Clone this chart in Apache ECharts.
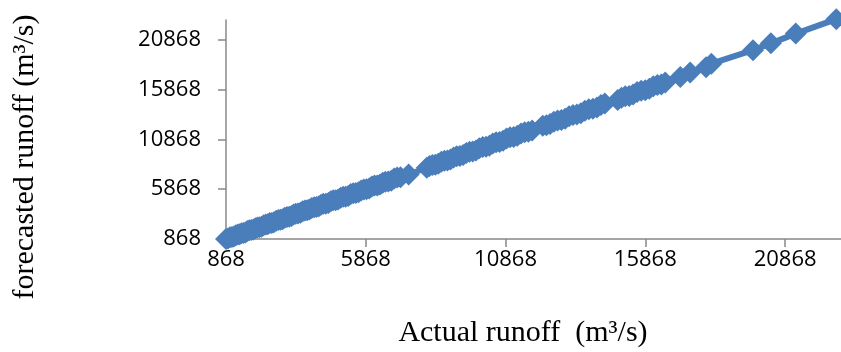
<!DOCTYPE html>
<html>
<head>
<meta charset="utf-8">
<script src="https://cdn.jsdelivr.net/npm/echarts@6/dist/echarts.min.js"></script>
<style>
  html, body { margin: 0; padding: 0; background: #fff; }
  #chart { width: 841px; height: 352px; }
</style>
</head>
<body>
<div id="chart"></div>
<script>
// Actual runoff (m3/s), sorted ascending
const actualRunoff = [
  868, 940, 1010, 1080, 1150, 1220, 1290, 1355, 1420, 1490,
  1560, 1630, 1700, 1775, 1850, 1920, 1990, 2065, 2140, 2215,
  2290, 2360, 2430, 2505, 2580, 2660, 2740, 2815, 2890, 2970,
  3050, 3130, 3210, 3285, 3360, 3445, 3530, 3610, 3690, 3770,
  3850, 3935, 4020, 4105, 4190, 4270, 4350, 4440, 4530, 4615,
  4700, 4790, 4880, 4970, 5060, 5150, 5240, 5330, 5420, 5515,
  5610, 5705, 5800, 5895, 5990, 6085, 6180, 6280, 6380, 6475,
  6570, 6675, 6780, 6885, 6990, 7110, 7400, 8050, 8150, 8250,
  8355, 8460, 8570, 8680, 8790, 8900, 9010, 9120, 9235, 9350,
  9465, 9580, 9695, 9810, 9930, 10050, 10170, 10290, 10410, 10530,
  10655, 10780, 10905, 11030, 11160, 11290, 11420, 11550, 11685, 11820,
  12200, 12330, 12460, 12595, 12730, 12865, 13000, 13140, 13280, 13420,
  13560, 13705, 13850, 13995, 14140, 14280, 14420, 14880, 15015, 15150,
  15290, 15430, 15575, 15720, 15865, 16010, 16155, 16300, 16440, 16580,
  17120, 17470, 18040, 18230, 19720, 20360, 21250, 22700
];
// Forecasted runoff (m3/s) for the same records
const forecastRunoff = [
  880, 925, 1045, 1070, 1120, 1245, 1310, 1340, 1455, 1470,
  1530, 1660, 1735, 1760, 1820, 1950, 2030, 2040, 2110, 2250,
  2320, 2345, 2470, 2480, 2550, 2700, 2780, 2790, 2860, 3010,
  3090, 3100, 3180, 3320, 3410, 3420, 3500, 3650, 3740, 3745,
  3820, 3975, 4060, 4080, 4150, 4315, 4400, 4410, 4490, 4660,
  4760, 4765, 4840, 5020, 5110, 5120, 5200, 5380, 5470, 5490,
  5570, 5750, 5850, 5870, 5950, 6135, 6230, 6250, 6340, 6525,
  6620, 6640, 6730, 6940, 7040, 7075, 7350, 8020, 8195, 8300,
  8320, 8420, 8620, 8730, 8755, 8860, 9060, 9170, 9200, 9300,
  9515, 9630, 9660, 9760, 9985, 10100, 10130, 10240, 10460, 10580,
  10620, 10730, 10960, 11080, 11120, 11240, 11475, 11600, 11650, 11770,
  12250, 12290, 12410, 12650, 12780, 12825, 12950, 13195, 13330, 13380,
  13510, 13760, 13900, 13950, 14090, 14335, 14470, 14830, 15070, 15200,
  15245, 15380, 15630, 15770, 15820, 15960, 16210, 16350, 16395, 16600,
  17130, 17600, 18130, 18480, 19840, 20520, 21500, 22950
];
// Axis tick values shared by both axes
const tickValues = [868, 5868, 10868, 15868, 20868];
const axisMin = 868;
const axisMax = 22868;

const points = actualRunoff.map((a, i) => [a, forecastRunoff[i]]);

const axisColor = '#888888';
const labelFont = {
  fontFamily: 'Open Sans', fontSize: 22, color: '#000',
  formatter: (v) => String(v)
};

const chart = echarts.init(document.getElementById('chart'), null, { renderer: 'canvas' });
chart.setOption({
  animation: false,
  backgroundColor: '#ffffff',
  grid: { left: 226, top: 20, right: -2, bottom: 113, containLabel: false },
  xAxis: {
    type: 'value',
    min: axisMin,
    max: axisMax,
    axisLine: { show: true, lineStyle: { color: axisColor, width: 1.5 } },
    axisTick: { show: true, length: 8, customValues: tickValues, lineStyle: { color: axisColor, width: 1.5 } },
    axisLabel: Object.assign({ margin: 10, customValues: tickValues }, labelFont),
    splitLine: { show: false }
  },
  yAxis: {
    type: 'value',
    min: axisMin,
    max: axisMax,
    axisLine: { show: true, lineStyle: { color: axisColor, width: 1.5 } },
    axisTick: { show: true, length: 8, customValues: tickValues, lineStyle: { color: axisColor, width: 1.5 } },
    axisLabel: Object.assign({ margin: 25, customValues: tickValues }, labelFont),
    splitLine: { show: false }
  },
  graphic: [
    {
      type: 'text',
      x: 523, y: 333,
      style: {
        text: 'Actual runoff  (m³/s)',
        fontFamily: 'Liberation Serif', fontSize: 30, fill: '#000',
        align: 'center', verticalAlign: 'middle'
      }
    },
    {
      type: 'text',
      x: 25, y: 157,
      rotation: Math.PI / 2,
      style: {
        text: 'forecasted runoff (m³/s)',
        fontFamily: 'Liberation Serif', fontSize: 30, fill: '#000',
        align: 'center', verticalAlign: 'middle'
      }
    }
  ],
  series: [{
    type: 'line',
    data: points,
    clip: false,
    showSymbol: true,
    symbol: 'diamond',
    symbolSize: 22,
    itemStyle: { color: '#4A7EBB' },
    lineStyle: { color: '#4A7EBB', width: 6 }
  }]
});
</script>
</body>
</html>
